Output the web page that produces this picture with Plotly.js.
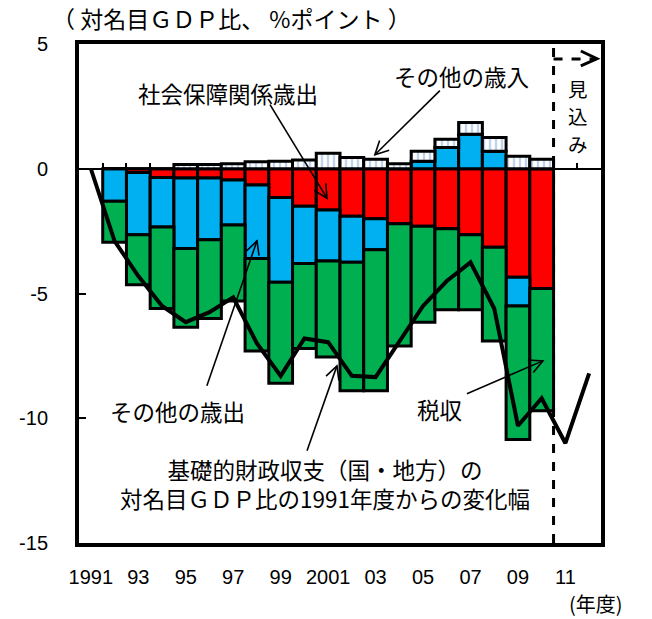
<!DOCTYPE html>
<html>
<head>
<meta charset="utf-8">
<script src="https://cdn.plot.ly/plotly-3.0.1.min.js"></script>
<style>html,body{margin:0;padding:0;background:#fff;}#chart{width:652px;height:619px;}</style>
</head>
<body>
<div id="chart"></div>
<script>
// ---- data ----
const barYears = [1992,1993,1994,1995,1996,1997,1998,1999,2000,2001,2002,2003,2004,2005,2006,2007,2008,2009,2010];
const socialSecurity = [0,-0.15,-0.35,-0.37,-0.37,-0.45,-0.65,-1.15,-1.5,-1.65,-1.9,-2.0,-2.2,-2.3,-2.4,-2.65,-3.15,-4.35,-4.8];
const otherExpenditure = [-1.3,-2.5,-1.98,-2.83,-2.48,-1.8,-2.95,-3.4,-2.3,-2.05,-1.85,-1.25,0,0.3,0.85,1.38,0.7,-1.15,0];
const taxRevenue = [-1.65,-2.0,-3.27,-3.15,-3.15,-3.05,-3.7,-4.05,-3.4,-3.85,-5.15,-5.65,-4.9,-3.85,-3.25,-3.0,-3.75,-5.35,-4.9];
const otherRevenue = [0,0,0,0.17,0.17,0.2,0.28,0.3,0.35,0.62,0.45,0.38,0.2,0.4,0.33,0.47,0.55,0.5,0.38];
const balanceYears = [1991,1992,1993,1994,1995,1996,1997,1998,1999,2000,2001,2002,2003,2004,2005,2006,2007,2008,2009,2010,2011,2012];
const primaryBalance = [0,-2.9,-4.3,-5.5,-6.15,-5.75,-5.15,-7.0,-8.3,-6.8,-6.95,-8.3,-8.35,-6.9,-5.5,-4.5,-3.75,-5.6,-10.3,-9.2,-11.0,-8.2];
const xTickVals = [1991,1993,1995,1997,1999,2001,2003,2005,2007,2009,2011];
const xTickText = ['1991','93','95','97','99','2001','03','05','07','09','11'];
const yTickVals = [5,0,-5,-10,-15];
const yTickText = ['5','0','-5','-10','-15'];
const seriesNames = ['社会保障関係歳出','その他の歳出','税収','その他の歳入','基礎的財政収支'];
const estimateChars = ['見','込','み'];

const JP = '"Noto Sans CJK JP", sans-serif';
const NUM = '"Liberation Sans", Arial, sans-serif';
const barLine = {color:'#000', width:3};

const X_RANGE = [1990.5, 2012.5], Y_RANGE = [-15, 5];
const PLOT_W = 522, PLOT_H = 499;

const traces = [
  {type:'bar', name:seriesNames[0], x:barYears, y:socialSecurity, marker:{color:'#FF0000', line:barLine}},
  {type:'bar', name:seriesNames[1], x:barYears, y:otherExpenditure, marker:{color:'#00B0F0', line:barLine}},
  {type:'bar', name:seriesNames[2], x:barYears, y:taxRevenue, marker:{color:'#00B050', line:barLine}},
  {type:'bar', name:seriesNames[3], x:barYears, y:otherRevenue,
    marker:{color:'#FFFFFF', line:barLine, pattern:{shape:'|', fgcolor:'#7FA7DA', bgcolor:'#FFFFFF', size:6, solidity:0.4, fillmode:'overlay'}}},
  {type:'scatter', mode:'lines', name:seriesNames[4], x:balanceYears, y:primaryBalance, xaxis:'x2',
    line:{color:'#000', width:4}}
];

const boundaryTicks = barYears.map(v => v - 0.5).concat([barYears[barYears.length-1] + 0.5, barYears[barYears.length-1] + 1.5]);

// leader line with open "V" arrowhead (head/tail in axis units)
function arrowShapes(hx, hy, tx, ty) {
  const sx = PLOT_W / (X_RANGE[1] - X_RANGE[0]), sy = PLOT_H / (Y_RANGE[1] - Y_RANGE[0]);
  const dx = (tx - hx) * sx, dy = -(ty - hy) * sy;
  const len = Math.hypot(dx, dy), ux = dx / len, uy = dy / len;
  const L = 15, a = 27 * Math.PI / 180;
  const pts = [a, -a].map(t => {
    const rx = ux * Math.cos(t) - uy * Math.sin(t), ry = ux * Math.sin(t) + uy * Math.cos(t);
    return [hx + rx * L / sx, hy - ry * L / sy];
  });
  const st = {color:'#000', width:1.6};
  return [
    {type:'line', xref:'x', yref:'y', x0:tx, y0:ty, x1:hx, y1:hy, line:st},
    {type:'path', xref:'x', yref:'y', path:`M ${pts[0][0]} ${pts[0][1]} L ${hx} ${hy} L ${pts[1][0]} ${pts[1][1]}`, line:st}
  ];
}
const label = (x, y, t, size, pad) => ({x:x, y:y, xref:'x', yref:'y', text:t, showarrow:false, borderpad:(pad === undefined ? 1 : pad),
  font:{family:JP, size:size || 22.5, color:'#000'}});

const shapes = [
  {type:'line', xref:'x', yref:'y', x0:2010.5, x1:2010.5, y0:-15, y1:5, line:{color:'#000', width:3, dash:'dash'}},
  {type:'line', xref:'x', yref:'y', x0:2010.5, x1:2012.3, y0:4.4, y1:4.4, line:{color:'#000', width:3, dash:'dash'}},
  {type:'path', xref:'x', yref:'y', path:'M 2011.65 4.72 L 2012.33 4.41 L 2011.65 4.12', line:{color:'#000', width:3}}
].concat(
  arrowShapes(2000.95, -1.18, 1998.55, 2.57),
  arrowShapes(2002.97, 0.56, 2005.71, 3.13),
  arrowShapes(1998.0, -2.89, 1995.89, -8.70),
  arrowShapes(2001.37, -7.9, 2000.11, -11.3),
  arrowShapes(2010.05, -7.7, 2006.85, -9.02)
);

const layout = {
  width:652, height:619,
  margin:{l:79, r:51, t:44, b:76},
  paper_bgcolor:'#fff', plot_bgcolor:'#fff',
  showlegend:false,
  barmode:'relative', bargap:0,
  font:{family:NUM, size:19, color:'#000'},
  xaxis:{range:X_RANGE, tickvals:xTickVals, ticktext:xTickText, ticks:'', showgrid:false, zeroline:false,
    showline:true, mirror:true, linecolor:'#000', linewidth:4, tickfont:{family:NUM, size:20, color:'#000'}, ticklabelstandoff:13},
  xaxis2:{range:X_RANGE, overlaying:'x', anchor:'free', position:0.75, side:'top', tickvals:boundaryTicks,
    ticks:'outside', ticklen:6, tickwidth:2, tickcolor:'#000', showticklabels:false, showgrid:false, zeroline:false, showline:false},
  yaxis:{range:Y_RANGE, tickvals:yTickVals, ticktext:yTickText, ticks:'inside', ticklen:7, tickwidth:2, tickcolor:'#000',
    showgrid:false, zeroline:true, zerolinecolor:'#000', zerolinewidth:2,
    showline:true, mirror:true, linecolor:'#000', linewidth:4, tickfont:{family:NUM, size:20, color:'#000'}, ticklabelstandoff:23},
  shapes:shapes,
  annotations:[
    {xref:'paper', yref:'paper', x:-0.055, y:1.052, xanchor:'left', yanchor:'middle', showarrow:false,
      text:'（ 対名目ＧＤＰ比、 %ポイント ）', font:{family:JP, size:23, color:'#000'}},
    {xref:'paper', yref:'paper', x:0.99, y:-0.121, xanchor:'center', yanchor:'middle', showarrow:false,
      text:'(年度)', font:{family:JP, size:20, color:'#000'}},
    label(2011.53, 3.22, estimateChars[0], 19.5, 0),
    label(2011.53, 2.12, estimateChars[1], 19.5, 0),
    label(2011.53, 1.02, estimateChars[2], 19.5, 0),
    label(1996.78, 3.05, seriesNames[0]),
    label(2006.64, 3.73, seriesNames[3]),
    label(1994.67, -9.7, seriesNames[1]),
    label(2005.71, -9.62, seriesNames[2]),
    label(2000.87, -12.63, '基礎的財政収支（国・地方）の<br>対名目ＧＤＰ比の1991年度からの変化幅')
  ]
};

Plotly.newPlot('chart', traces, layout, {staticPlot:true, displayModeBar:false});
</script>
</body>
</html>
